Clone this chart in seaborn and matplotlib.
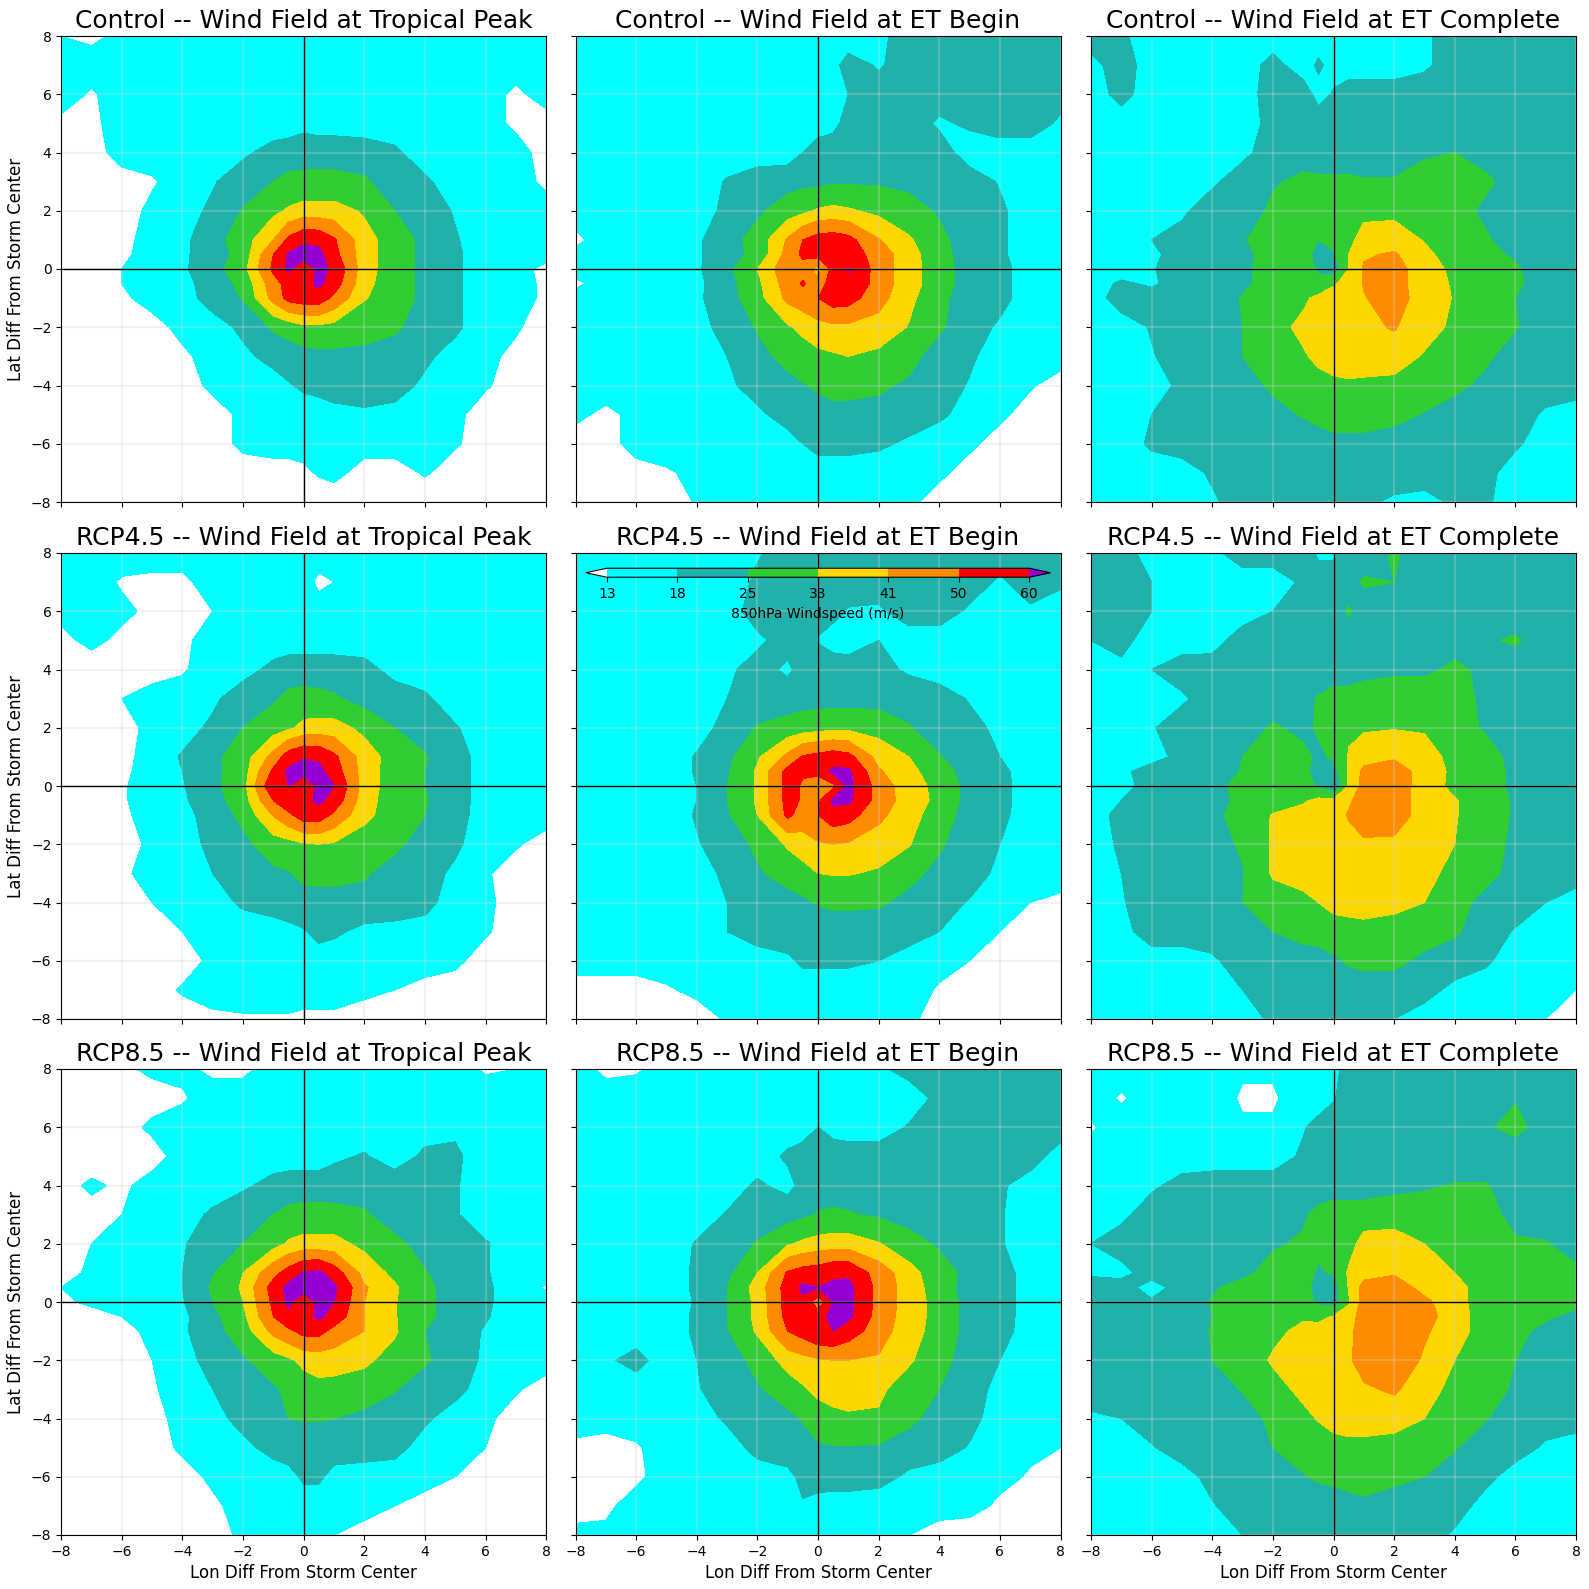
import numpy as np
import seaborn as sns
import matplotlib
matplotlib.use('Agg')
import matplotlib.pyplot as plt

# grid the winds were read on (finer near the storm center), rows run north to south
lon_pts = [-8, -7, -6, -5, -4, -3, -2, -1, -.5, 0, .5, 1, 2, 3, 4, 5, 6, 7, 8]
lat_pts = lon_pts[::-1]

levels = [13, 18, 25, 33, 41, 50, 60]
wind_colors = ['white', 'cyan', 'lightseagreen', 'limegreen', 'gold', 'darkorange', 'red', 'darkviolet']

runs = ['Control', 'RCP4.5', 'RCP8.5']
stages = ['Tropical Peak', 'ET Begin', 'ET Complete']

control_peak = [
    [13,12,14,15,15,15,15,15,15,15,15,15,15,15,15,15,15,15,15],
    [15,15,15,15,15,15,15,15,15,15,15,15,15,15,15,15,15,15,15],
    [15,12.5,15,15,15,15,15,15,15,15,15,15,15,15,15,15,15,12,15],
    [12,12,15,15,15,15,15,15,15,16,15,15,15,15,15,15,15,12,11],
    [11,11,15,15,15,15,17,20,21,22,22,22,21,19,15,15,15,15,11],
    [11,11,11,12.5,15,17.5,21,25,27,27,27,27,26,21,19,15,15,15,12],
    [11,11,11,14,16,19,25.5,31,34,36,36,36,32,25,21,17.5,15,15,15],
    [11,11,11.5,15,16.5,22,29,41,52,58,57,51,36,29,23,18.5,15,15,15],
    [11,11,12,15,17,21,28,50,61,65,63,53,36,29,23,19,15,15,15],
    [11,11,13,15,17,22,30,52,62,52,63,58,36,29,23,19,15,15,11.5],
    [11,11,13,15,16,21,27,46,54,56,62,55,35,29,23,19,15,15,12],
    [11,11,12,15,16,20,25.5,44,53,55,55,48,33.5,29,23,19,15,15,12],
    [10,10,10,11,14.5,16,19,26,28,31,31,30,28,26,22,19,15,13.5,11],
    [10,10,10,10,12,15,17,19.5,21,22,23,23,23,22,19,16,14,12,10],
    [10,10,10,10,11,14,15,16,17.5,19,20,21,21,20,17,15,13.5,11,10],
    [10,10,10,10,10,11,14,15,15,15,15,16,17,16.5,15,14,11,10,10],
    [10,10,10,10,10,11,14,15,15,15,15,15,15,15,13.5,13.5,11,10,10],
    [10,10,10,10,10,10,11,11,11,12,13.5,14.5,11,11,13.5,11,10,10,10],
    [10,10,10,10,10,10,10,10,10,10,10,10,10,10,10,10,10,10,10],
]
control_begin = [
    [15,15,15,15,15,15,15,15,15,15,15,15,17,20,21,21,21,21,21],
    [15,15,15,15,15,15,15,15,15,15,16.5,20,17.5,20,21,21,21,21,21],
    [15,15,15,15,15,15,15,15,15,15,15,18,20,21,21,19,19,21,20],
    [15,15,15,15,15,15,15,15,15,15,16.5,20,20,21,17,19,21,21,17],
    [15,15,15,15,15,15,15,15,18,21,21,21,21,21,21,15,15,15,15],
    [15,15,15,15,15,18.5,21,22,23,23,24,24,24,23,21,21,17.5,15,15],
    [15,15,15,15,15,19.5,23.5,29,31,34,35,34,31,28,24,21,19,15,15],
    [12,15,15,15,17,22,28,42,50,54,55,53,41.5,34,27,21,19,15,15],
    [14,15,15,15,17,22,27,44,52,54,56,55,46,36,28,21,19,15,15],
    [15,15,15,15,17,23,33,47,46,37,54,60.5,46,36,29,21,20,15,15],
    [12,15,15,15,16.5,22,31,45,51,45,55,59,46,36,29,21,20,15,15],
    [15,15,15,15,17,21.5,30,43,46,50,55,54,44,35,27,21,20,15,15],
    [15,15,15,15,16,20,25.5,32,35,38,39,39,38,32.5,26,21,17,15,15],
    [15,15,15,15,15,18,23,27,29,31,32,33,31,27,22,19,15,15,15],
    [15,15,15,15,15,17,20,23,24.5,26,27,27,26,24,21,17.5,15,13.5,11],
    [14,12,14,15,15,15,17,20,21,22,23,23,23,21,19,16,14,11,10],
    [11,11,15,15,15,15,15,16,18,20,20,20,19,17,15,14,11,10,10],
    [10,10,11,12.5,14,15,15,15,15,15,15,15,15,15,14,11,10,10,10],
    [10,10,10,10,13.5,15,15,15,15,15,15,15,15,14,11,10,10,10,10],
]
control_complete = [
    [21,19,15,15,15,15,15,15,15,15,15,15,15,17,21,21,21,21,21],
    [16,21,15,15,15,15,20,15,19,16,15,15,15,17,21,21,21,21,21],
    [15,20,15,15,15,15,21,21,16,18.5,21,21,21,21,21,21,21,21,21],
    [15,15,15,15,15,15,20,21,21,21,21,21,21,21,21,21,21,21,21],
    [15,15,15,15,15,16.5,21,23,22,22,22,22,22,24.5,25,22,21,21,21],
    [15,15,15,15,17,21,24.5,26,26,26,26,25.5,25.5,26.5,27,26.5,22,21,21],
    [15,15,15,17,21,22,26,29,29,29,30,31,31,29.5,28,23.5,22,21,21],
    [15,15,18,20,21,24.5,28,29,25,28,31,36,37,32.5,28,26,21,21,21],
    [15,15,17,20,21,23,28,28.5,22,24,33,40,42,35,29,27,24,21,21],
    [15,15,17.5,21,21,23.5,28,29,24,20,33,42,44,37,31,29,26,21,21],
    [15,19,17,21,21,23.5,28,29,27,32,36,41.5,44,37,32,29,26.5,21,21],
    [15,21,21,21,21,25.5,29,31.5,35,37,38,40.5,45,37,32.5,29,25,21,21],
    [15,15,18.5,21,21,25,30,35,37,38,39,39.5,41.5,37,31,29,25.5,21,21],
    [15,15,17.5,21,21,25,28,32,35,37,38,38,38,32,29,26.5,21.5,21,21],
    [15,15,16,19,21,22.5,26,29,30,31,31.5,31,30,29,27,23,21,21,21],
    [15,15,18,21,21,21,23,25.5,27,28,28,28,27,24.5,21,21,21,17,15],
    [15,15,19,21,21,21,21,21,22,23,23,23,22,21,21,21,19,15,15],
    [15,15,15,15,19,21,21,21,21,21,21,21,21,21,21,20,15,15,15],
    [15,15,15,15,17,21,21,21,21,21,21,19,17,16,19,19,15,15,15],
]
rcp45_peak = [
    [15,15,15,15,15,15,15,15,15,15,15,15,15,15,15,15,15,15,15],
    [15,15,12.5,12,12,15,13,15,15,15,12,13,13,15,15,15,15,15,15],
    [14,13,14,12,12,13,14,15,15,15,15,15,15,15,15,15,15,15,15],
    [12,14,12,11,12,15,15,15,15,15,15,15,15,15,15,15,15,15,15],
    [11,11,11,11,12.5,15,16,19.5,21,21,21,21,20,16,15,15,15,15,15],
    [11,11,13,15,15,17,21,24,27,28,27,26,22,21,19,15,13,15,15],
    [11,11,11,14.5,16,19,25,29,31.5,35,36,36,31,25,22,18.5,15,15,15],
    [11,11,11.5,15,18.5,23,29,44,55,59,58,52,37,29.5,25.5,21,15,15,15],
    [11,11,12,15,18,23,29,52,62,65,63,55,37,29,25,21,15,15,15],
    [11,11,12.5,15,17.5,23,30,58,60,50,63,60,37,29,25,21,15,15,15],
    [11,11,12.5,15,17,22,29,50,57,57,62,56,36,29,25.5,21,15,15,15],
    [11,11,12,15,16.5,20,27,41.5,48,55,55,48,35,29,25,20.5,15,15,15],
    [11,11,11,14,15.5,19.5,23,29,30,32,33,32,29,27,21,19,15,13.5,11],
    [11,11,12.5,14,15,18,21,23.5,24.5,27,27.5,27.5,26,21,20,17,13.5,11,10],
    [11,11,11,13,15,15.5,19,21,22,22,22,22,22,21.5,20,15,14,11,10],
    [10,10,11,11,13,15,15,15,16,17.5,20,19,16.5,16,15.5,15,13.5,11,10],
    [10,10,10,10,11,14,15,15,15,15,15,15,15,15,15,14,11,10,10],
    [10,10,10,11,13.5,15,15,15,15,15,15,15,14,13,11.5,11,10,10,10],
    [10,10,10,10,11,12,12.5,12.5,12.5,12,12,12,11,10,10,10,10,10,10],
]
rcp45_begin = [
    [15,15,15,15,15,15,17.5,20,21,21,21,21,21,21,21,21,21,21,21],
    [15,15,15,15,15,15,19,21,21,21,21,21,21,21,21,21,17,21,19],
    [15,15,15,15,15,16,20,21,21,21,20,17.5,17,21,21,17,16,17,15],
    [15,15,15,15,15,15,17,20,21,17.5,15,15,18,15,15,15,15,15,15],
    [15,15,15,15,15,17,20,17,20,22,22,21,20,17,15,16.5,16,15,15],
    [15,15,15,15,15.5,18,21,21,22,22,22,22,22,22,21,17.5,15,15,15],
    [15,15,15,15,15.5,20,25.5,28,29,30,31,31,30,25.5,21,20,16.5,15,15],
    [15,15,15,15,18.5,23,32,43,51,53,55,53,38,33,25.5,21,18,15,15],
    [15,15,15,15,18.5,24,34,53,51,55,62,62,42,35,29,21,19.5,15,15],
    [15,15,15,15,18,25,34,53,49,39,48,63,46,36,31,22,20,15,15],
    [15,15,15,15,18,25,34,53,49,48,62,62,46,37,31,22,20,15,15],
    [15,15,15,15,18.5,24,33,52,46,50,56,54,43,36,29,21.5,19.5,15,15],
    [15,15,15,15,17.5,21,26.5,34,37,40,41,40,37,33.5,26,21,18,15,15],
    [15,15,15,15,16,19,24,28,30,33,33.5,33.5,32,27,23,21,16.5,15,15],
    [15,15,15,15,15.5,18,21,22,23.5,25.5,26.5,26.5,26,23,20.5,17.5,15,13,12],
    [15,15,15,15,15,18,21,21,21,21,21,21,21,21,18,15,13,11,10],
    [15,15,15,15,15,15,15,17,19,19,19,19,18,15,14.5,13,10,10,10],
    [11,11,11,12.5,14,15,15,15,15,15,15,15,15,15,12.5,11,10,10,10],
    [10,10,10,10,11,13.5,15,15,15,15,15,15,15,14,11,10,10,10,10],
]
rcp45_complete = [
    [21,20,16,15,16.5,21,21,21,17,17,21,21,26,21,21,21,19,21,21],
    [21,21,18,15,15,15,15,19,21,21,21,26,25,21,21,21,21,21,21],
    [21,21,18,15,15,15,18,20,21,21,26,21,21,21,21,21,21,21,21],
    [18,20,15,15,15.5,21,20,21,21,21,21,21,21,21,23,24,26,21,21],
    [15,16.5,18,21,21,21,21,21,21,21,21,23,24,24,26,24,21,21,21],
    [15,15,17.5,17,21,21,21,23,25.5,28,28,28,28,28,28,23.5,21,21,21],
    [15,15,17.5,21,21,21,26,23,26,30,32,32,32.5,32,29,24,21,21,21],
    [15,15,15.5,20,21,25,29,27,23.5,26,33.5,38,40,37,30,29,22,21,21],
    [15,16.5,21,21,21,25.5,29,27,22,21,34,43,45,38,31,29,23,21,21],
    [15,15.5,21,21,23,27,29,29,24,17.5,34,44,46,37,31,29,23,21,21],
    [15,18,21,21,22,27,29,32,35,35,40,44,46,37,33.5,29,24,21,21],
    [15,20,21,21,23,28,33.5,36,37,38,41.5,46,46,37,33.5,29,24,21,21],
    [15,19,21,21,22,26,34,37,38,39,39,39.5,39,36.5,33,28,23.5,21,21],
    [15,18,21,21,21,24.5,34,36,36,37,38,38,38,35,31,27,23,21,21],
    [15,17.5,21,21,21,25,29,31,33,35,36,37,35,33,27.5,23,21,18,15],
    [15,16,21,21,21,21,25,28,29,30,30,30,30,29,26,21,17.5,15,15],
    [15,15,15,15,17,21,21,21,21,23.5,26,27,27,23,21,19,15,15,15],
    [15,15,15,15,15,18,21,21,21,21,21,21,21,20,16.5,15,15,14,13],
    [15,15,15,15,15,15.5,19,21,21,21,21,20,18,15.5,15,15,14,13,11.5],
]
rcp85_peak = [
    [11,11,12,14,14,12,12,15,15,15,15,15,15,15,15,15,12.5,13,15],
    [10,10,10,11,12.5,15,15,15,15,15,15,15,15,15,15,15,15,15,15],
    [10,10,11,14,15,15,15,15,15,15,15,15,15,15,16,17,15,15,15],
    [10,10,12,11,15,15,15,15,15,15,15,17,18.5,15.5,19,19,15,15,15],
    [11,14,12,15,15,15,17,20,21,21,21,21,21,21,21,18.5,15,15,15],
    [10,11,13,15,15.5,19,22,25,27,28,28,27.5,26,21,21,18.5,15,15,15],
    [11,13,15,15,17.5,21,25,30,34,35.5,35.5,35.5,31,27,22,21,18.5,15,15],
    [12,13.5,15,15,18,24.5,33,47,54,61,62,55,38,31,25.5,21,18.5,15,15],
    [13,15,15,15,18,26,34,54,63,65,65,62,42,34,27,21,19,15,12.5],
    [12,14,14,15,17.5,25,33,52,62,52,63,60,41,33.5,27,21,19,15,15],
    [11,11,13,15,16.5,23,31,50,58,56,62,56,41,33.5,27,21,18.5,15,14],
    [10,10,11,14.5,17,22,29,43.5,48,53,53,47,41,34,25,20.5,17.5,15,15],
    [10,10,10,13,16,20,24,29,31.5,35,36,36.5,34.5,30,26,21,17,15,15],
    [10,10,10,12.5,15,18,21,24,26.5,29,31,30,29,25.5,21,20,15,13.5,11],
    [10,10,10,11,15,16,20,23,25,25.5,25.5,25,23,21,19,15,14,11,10],
    [10,10,10,10.5,14,15,16.5,20,21,21,21,21,21,20,15.5,15,13,11,10],
    [10,10,10,10,11,14,15,15,16,19,19,16,15,15,15,13,11,10,10],
    [10,10,10,10,10,12,15,15,15,15,15,15,15,13,11,10,10,10,10],
    [10,10,10,10,10,11,14,15,15,15,14,13,11,10,10,10,10,10,10],
]
rcp85_begin = [
    [15,12,12.5,14.5,15,13.5,14,15,15,15,15,15,17,20,21,21,21,21,21],
    [15,15,15,15,15,15,15,15,15,15,15,15,15,15,19.5,21,21,21,21],
    [13,15,15,15,15,15,15,15,15,18,16,15,15,18.5,21,21,21,21,21],
    [15,15,15,15,15,15,15,19,21,21,21,21,21,20,19,19,20,21,15],
    [15,15,15,15,15,15,19,16,20,22,22,22,21,21,21,19,19,15,15],
    [15,15,15,15,15,18.5,21,22,23.5,25.5,26,25.5,24,22,21,21,18.5,15,15],
    [15,15,15,15,18.5,21,25.5,32,34.5,36,37,37,33.5,28,24,21,18.5,15,15],
    [15,15,15,15,19,23,33,51,54,55,58,58,46,36,28,23,21,15,15],
    [15,15,15,15,19,25,36,54,62,60,62,63,47,37,29,21.5,21,15,15],
    [15,15,15,15,18.5,25,35,54,58,44,60,63,47,37,30,22,21,15,15],
    [15,15,15,15,19,25,35,53,55,56,63,62,46,37,30,22,21,15,15],
    [15,15,15,15,19,24.5,34,50,54,59,60,55,45,36,30,22,20.5,15,15],
    [15,17,20,15,18,21,27.5,36,38,40,41,41,40,34,28,21,18,15,15],
    [15,15,15,15,17.5,21,24,29,32,35,36,36,34.5,29,25,21,16,15,15],
    [15,15,15,15,15,19,21,23,25.5,29,31,32,32,27,21.5,20,15,15,15],
    [12,11,12.5,15,15,15,20,21,22,24,24.5,24.5,24,21,21,17.5,15,14,13],
    [11,11,12,15,15,15,15,16.5,19.5,21,21,21,20,17,15,15,14.5,12.5,11],
    [10,12,15,15,15,15,15,17,17.5,15.5,15,15,15,15,15,15,12,10,10],
    [15,14,15,15,15,15,15,15,15,15,15,15,15,13,11,10,10,10,10],
]
rcp85_complete = [
    [15,15,15,14,15,13.5,13.5,15,15,16.5,20,20,20,21,21,21,21,21,21],
    [15,12.5,15,15,15,12.5,12.5,15,15,17.5,21,21,21,21,21,22,24.5,21,21],
    [12.5,15,15,15,15,13.5,13.5,17.5,20,21,21,21,21,21,21,24,27,22,21],
    [15,15,15,15,15,15,15,19,21,21,21,21,21,21,21,21,21,21,21],
    [15,15,17,20,21,21,21,21,21,21,21,21,23,24,25.5,25.5,22,21,21],
    [15,16.5,21,21,21,21,21,24,27,29,29,29,29,29,29,28,22.5,21,21],
    [18,21,21,21,21,21,24,26,28,29,30,36,37,33,29,28,26,25.5,21],
    [17,16,21,21,21,23,28,29,23.5,26,34,38,40,39,33,29,28,27,27],
    [21,21,15,21,24,28,29,29,21,20,33.5,44,46,38,36,29,29,28,27],
    [21,21,19,21,25.5,28,29,29,23.5,22,32,45,46,43,36,29,29,28,27],
    [21,21,21,21,25,28,30,32,31,33.5,37,45,46,44,37,29,28,26,23],
    [21,21,21,21,25.5,28,31,35,36,37,39,45,46,42,37,29,27,23,21],
    [21,21,21,21,25,28,34,37,38,39,40,44,46,40,33,29,25,21,21],
    [21,21,21,21,21,25.5,30,35,37,38,39,40,42,37,30,28,24,21,21],
    [17,18,21,21,21,21,27,31,33.5,37,38,38,37,33,29,25.5,21,21,21],
    [15,15,17.5,21,21,21,25,28,29,29,30,30,29,28,25.5,21,21,17,15],
    [15,15,15,15.5,20,21,21,24.5,26,27,28,28,27,25,21,20,15,15,15],
    [15,15,15,15,17.5,21,21,21,21,21,22,23.5,21,21,21,15.5,15,15,15],
    [15,15,15,15,15,18,21,21,21,21,21,21,21,21,17,15,15,15,15],
]
fields = [[control_peak, control_begin, control_complete],
          [rcp45_peak, rcp45_begin, rcp45_complete],
          [rcp85_peak, rcp85_begin, rcp85_complete]]

palette = sns.color_palette(wind_colors)

W = 1589.0
fig, axs = plt.subplots(3, 3, figsize=(15.89, 15.89), dpi=100, sharex=True, sharey=True)
lefts = [61.2, 575.5, 1091]
tops = [36, 553, 1069]

for i, run in enumerate(runs):
    for j, stage in enumerate(stages):
        ax = axs[i, j]
        ax.set_position([lefts[j] / W, 1 - (tops[i] + 466) / W, 485 / W, 466 / W])
        cf = ax.contourf(lon_pts, lat_pts, np.array(fields[i][j]), levels=levels,
                         colors=palette, extend='both')
        ax.grid(True, color='lightgray', alpha=0.3, linewidth=1.5)
        ax.axhline(0, color='black', linewidth=1)
        ax.axvline(0, color='black', linewidth=1)
        ax.set_xlim(-8, 8)
        ax.set_ylim(-8, 8)
        ax.set_xticks(range(-8, 9, 2))
        ax.set_yticks(range(-8, 9, 2))
        ax.set_title(f'{run} -- Wind Field at {stage}', fontsize=18)
        if i == 2:
            ax.set_xlabel('Lon Diff From Storm Center', fontsize=12)
        if j == 0:
            ax.set_ylabel('Lat Diff From Storm Center', fontsize=12)
        if i == 1 and j == 1:
            cax = ax.inset_axes([0.021, 0.948, 0.958, 0.0193])
            cbar = fig.colorbar(cf, cax=cax, orientation='horizontal', ticks=levels)
            cbar.set_label('850hPa Windspeed (m/s)', fontsize=10)
            cbar.ax.tick_params(labelsize=10)

fig.savefig('out.png', dpi=100)
